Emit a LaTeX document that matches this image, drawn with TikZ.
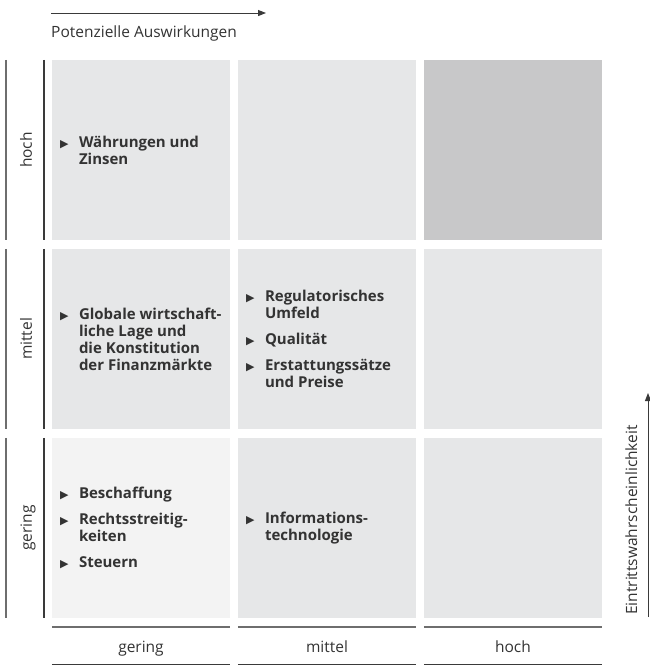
\documentclass[tikz,border=0pt]{standalone}
\usepackage{fontspec}
\setmainfont{Open Sans}
\newfontfamily\symfont{DejaVu Sans}
\usepackage{xcolor}
\usepackage{tikz}
\usetikzlibrary{arrows.meta,positioning}

\definecolor{cellgray}{HTML}{E6E7E8}
\definecolor{cellhigh}{HTML}{C8C8C9}
\definecolor{celllow}{HTML}{F3F3F3}
\definecolor{linegray}{HTML}{6E6E6E}
\definecolor{linedark}{HTML}{3A3A3A}
\definecolor{textdark}{HTML}{333333}

\newcommand{\bul}{\llap{\makebox[19pt][l]{\symfont\fontsize{11}{11}\selectfont ▶}}}

\begin{document}
\begin{tikzpicture}[%
      x=1pt, y=-1pt,
      cell/.style={minimum width=178pt, minimum height=180pt, inner sep=0pt, fill=#1},
      items/.style={align=left, anchor=west, inner sep=0pt, text=textdark,
        font=\fontsize{15}{17}\selectfont\bfseries},
      axislabel/.style={inner sep=0pt, text=textdark, font=\fontsize{15.5}{17}\selectfont},
      outerline/.style={linegray, line width=1.4pt},
      innerline/.style={linedark, line width=1.4pt}]
      \useasboundingbox (0,0) rectangle (650,665);

      % matrix cells
      \foreach \r/\c/\x/\y/\col in {1/1/141/150/cellgray, 1/2/327/150/cellgray, 1/3/513/150/cellhigh,
        2/1/141/339/cellgray, 2/2/327/339/cellgray, 2/3/513/339/cellgray,
        3/1/141/528/celllow, 3/2/327/528/cellgray, 3/3/513/528/cellgray}
        \node[cell=\col] (c\r\c) at (\x,\y) {};

      % row scale (left)
      \foreach \r/\lab in {1/hoch, 2/mittel, 3/gering} {
        \draw[outerline] ([xshift=-46pt]c\r1.north west) -- ([xshift=-46pt]c\r1.south west);
        \draw[innerline] ([xshift=-8pt]c\r1.north west) -- ([xshift=-8pt]c\r1.south west);
        \node[axislabel, rotate=90, anchor=base] (row\r) at ([xshift=-20pt]c\r1.west) {\lab};
      }

      % column scale (bottom)
      \foreach \c/\lab in {1/gering, 2/mittel, 3/hoch} {
        \draw[linegray, line width=2.2pt] ([yshift=-9pt]c3\c.south west) -- ([yshift=-9pt]c3\c.south east);
        \draw[innerline, line width=1.3pt] ([yshift=-46pt]c3\c.south west) -- ([yshift=-46pt]c3\c.south east);
        \node[axislabel, anchor=base] (col\c) at ([yshift=-34pt]c3\c.south) {\lab};
      }

      % axes
      \coordinate (xstart) at (51,13);
      \coordinate (xend) at (266,13);
      \draw[linedark, line width=1pt, -{Triangle[length=8pt,width=6pt]}] (xstart) -- (xend);
      \node[axislabel, anchor=base west] (xlab) at (51,37) {Potenzielle Auswirkungen};
      \coordinate (ystart) at (648,617);
      \coordinate (yend) at (648,393);
      \draw[linedark, line width=1pt, -{Triangle[length=8pt,width=6pt]}] (ystart) -- (yend);
      \node[axislabel, rotate=90, anchor=base west] (ylab) at (637,615) {Eintrittswahrscheinlichkeit};

      % risks
      \node[items] (r11) at ([xshift=27pt]c11.west) {\bul Währungen und\\ Zinsen};
      \node[items] (r21) at ([xshift=27pt]c21.west) {\bul Globale wirtschaft-\\ liche Lage und\\ die Konstitution\\ der Finanzmärkte};
      \node[items] (r22) at ([xshift=27pt]c22.west) {\bul Regulatorisches\\ Umfeld\\[9pt] \bul Qualität\\[9pt] \bul Erstattungssätze\\ und Preise};
      \node[items] (r31) at ([xshift=27pt]c31.west) {\bul Beschaffung\\[9pt] \bul Rechtsstreitig-\\ keiten\\[9pt] \bul Steuern};
      \node[items] (r32) at ([xshift=27pt]c32.west) {\bul Informations-\\ technologie};
    \end{tikzpicture}
\end{document}
